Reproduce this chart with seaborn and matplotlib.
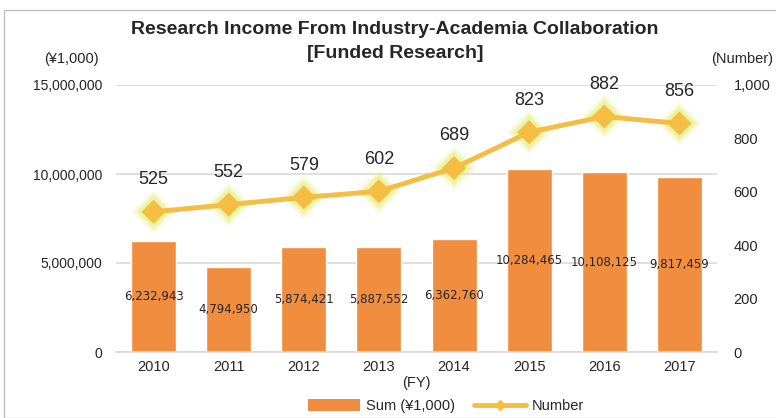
import numpy as np
import pandas as pd
import matplotlib
matplotlib.use('Agg')
import matplotlib.pyplot as plt
import seaborn as sns
from matplotlib.patches import Rectangle, Patch
from matplotlib.lines import Line2D

# data
years = ['2010', '2011', '2012', '2013', '2014', '2015', '2016', '2017']
sums = [6232943, 4794950, 5874421, 5887552, 6362760, 10284465, 10108125, 9817459]
numbers = [525, 552, 579, 602, 689, 823, 882, 856]

bar_color = '#F08D3F'
line_color = '#F5BD42'
glow_color = '#E6EE7A'
grid_color = '#D9D9D9'
txt = '#262626'

sns.set_theme(style='white')
plt.rcParams['font.family'] = ['Liberation Sans', 'DejaVu Sans']

df = pd.DataFrame({'year': years, 'sum': sums, 'number': numbers})

fig = plt.figure(figsize=(7.76, 4.18), dpi=100)
ax = fig.add_axes([116 / 776, 1 - 352 / 418, (717 - 116) / 776, (352 - 85) / 418])

sns.barplot(data=df, x='year', y='sum', color=bar_color, width=0.6,
            saturation=1, ax=ax, zorder=2)
ax.set_ylim(0, 15000000)
ax.set_yticks([0, 5000000, 10000000, 15000000])
ax.set_yticklabels([f'{v:,}' for v in [0, 5000000, 10000000, 15000000]],
                   fontsize=10, color=txt)
ax.yaxis.grid(True, color=grid_color, linewidth=1.2, zorder=0)
ax.set_axisbelow(True)
ax.set_xlim(-0.5, len(years) - 0.5)
ax.tick_params(axis='x', labelsize=10.5, colors=txt, length=0, pad=6)
ax.tick_params(axis='y', length=0, pad=10)
ax.set_xlabel('(FY)', fontsize=10.5, color=txt, labelpad=1)
ax.set_ylabel('')
for s in ['top', 'right', 'left']:
    ax.spines[s].set_visible(False)
ax.spines['bottom'].set_color(grid_color)
ax.spines['bottom'].set_linewidth(1.2)

# bar labels in the middle of each bar
for i, v in enumerate(sums):
    ax.text(i, v / 2, f'{v:,}', ha='center', va='center', fontsize=8.5,
            color=txt, family='DejaVu Sans', zorder=5)

# number line on right axis, with a soft glow round the markers
ax2 = ax.twinx()
x = np.arange(len(years))
ax2.plot(x, numbers, color=line_color, lw=3.5, zorder=3)
for s, a in [(520, 0.15), (420, 0.2), (330, 0.3), (250, 0.4)]:
    ax2.scatter(x, numbers, marker='D', s=s, color=glow_color, alpha=a,
                edgecolors='none', zorder=2)
ax2.scatter(x, numbers, marker='D', s=150, color=line_color,
            edgecolors='none', zorder=4)
for i, v in enumerate(numbers):
    ax2.annotate(str(v), (i, v), xytext=(0, 17), textcoords='offset points',
                 ha='center', va='bottom', fontsize=13, color=txt)
ax2.set_ylim(0, 1000)
ax2.set_yticks(range(0, 1001, 200))
ax2.set_yticklabels([f'{v:,}' for v in range(0, 1001, 200)], fontsize=10.5,
                    color=txt)
ax2.tick_params(axis='y', length=0, pad=12)
for s in ['top', 'right', 'left', 'bottom']:
    ax2.spines[s].set_visible(False)
ax2.grid(False)

# titles and axis units
fig.text(395 / 776, 1 - 30 / 418, 'Research Income From Industry-Academia Collaboration',
         ha='center', va='center', fontsize=14, fontweight='bold', color=txt)
fig.text(395 / 776, 1 - 54 / 418, '[Funded Research]',
         ha='center', va='center', fontsize=14, fontweight='bold', color=txt)
fig.text(71 / 776, 1 - 59 / 418, '(¥1,000)', ha='center', va='center',
         fontsize=10.5, color=txt)
fig.text(742 / 776, 1 - 59 / 418, '(Number)', ha='center', va='center',
         fontsize=10.5, color=txt)

# legend
handles = [Patch(facecolor=bar_color, edgecolor='none'),
           Line2D([0], [0], color=line_color, lw=3.5, marker='D', markersize=5)]
fig.legend(handles, ['Sum (¥1,000)', 'Number'], loc='center',
           bbox_to_anchor=(446 / 776, 1 - 406 / 418), ncol=2, frameon=False,
           fontsize=10.5, handlelength=3.6, handleheight=0.8, columnspacing=1.3,
           handletextpad=0.4)

# outer frame
fig.patches.append(Rectangle((4 / 776, 0), 1, 1 - 10 / 418,
                             transform=fig.transFigure, fill=False,
                             edgecolor='#BFBFBF', lw=1))

fig.savefig('out.png', dpi=100)
